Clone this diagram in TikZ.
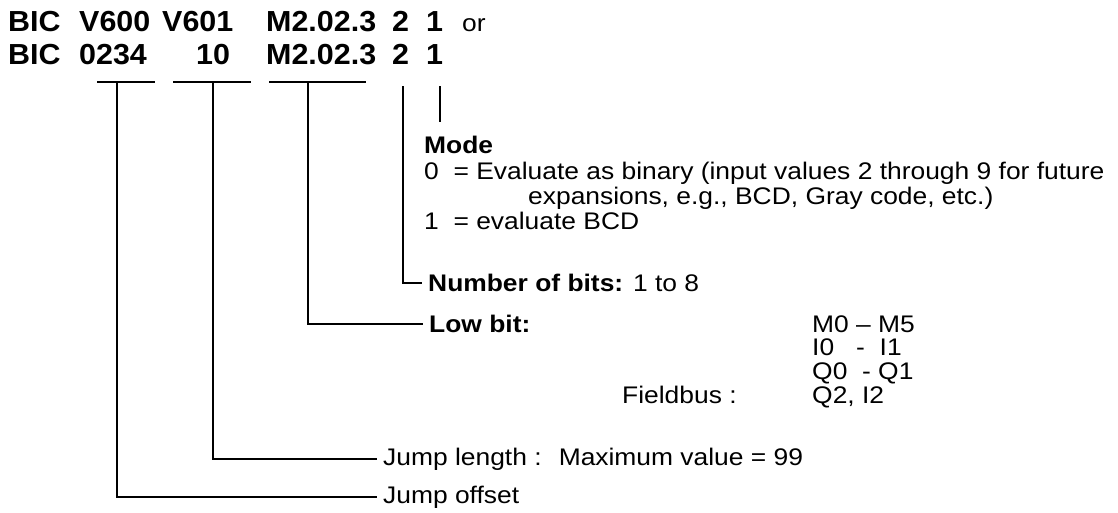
\documentclass[tikz,border=0pt]{standalone}
\usepackage{fontspec}
\setmainfont{Liberation Sans}
\newfontfamily\headfont[FakeStretch=1.05]{Liberation Sans}
\newfontfamily\notefont[FakeStretch=1.1,Ligatures=TeX]{Liberation Sans}
\usetikzlibrary{positioning}

\tikzset{
  word/.style={anchor=base west, inner sep=0pt, font={\headfont\fontsize{29}{33}\selectfont\bfseries}},
  desc/.style={anchor=base west, inner sep=0pt, font={\notefont\fontsize{24}{27}\selectfont}},
  lead/.style={line width=1.5pt},
}

\begin{document}
\begin{tikzpicture}[x=1pt,y=-1pt]

% Canvas in pixels of the original (1118 x 512), y grows downwards
\useasboundingbox (0,0) rectangle (1118,512);

% Rows of the instruction and height of the underline bars
\def\rowA{31}
\def\rowB{64}
\def\bary{82}

% --- Instruction, first form ---
\node[word] (bicA)  at (8,\rowA)   {BIC};
\node[word] (vsrc)  at (79,\rowA)  {V600};
\node[word] (vlen)  at (162,\rowA) {V601};
\node[word] (lowA)  at (266,\rowA) {M2.02.3};
\node[word] (bitsA) at (392,\rowA) {2};
\node[word] (modeA) at (426,\rowA) {1};
\node[desc] (orword) at (462,\rowA) {or};

% --- Instruction, second form ---
\node[word] (bicB)  at (8,\rowB)   {BIC};
\node[word] (offB)  at (79,\rowB)  {0234};
\node[word] (lenB)  at (196,\rowB) {10};
\node[word] (lowB)  at (266,\rowB) {M2.02.3};
\node[word] (bitsB) at (392,\rowB) {2};
\node[word] (modeB) at (426,\rowB) {1};

% --- Underline bars ---
\coordinate (offL) at (97,\bary);  \coordinate (offR) at (155,\bary);
\coordinate (lenL) at (173,\bary); \coordinate (lenR) at (251,\bary);
\coordinate (lowL) at (269,\bary); \coordinate (lowR) at (366,\bary);
\draw[lead] (offL) -- (offR);
\draw[lead] (lenL) -- (lenR);
\draw[lead] (lowL) -- (lowR);

% Tops of the leads
\coordinate (offT)  at (117,\bary);
\coordinate (lenT)  at (213,\bary);
\coordinate (lowT)  at (308,\bary);
\coordinate (bitsT) at (403,86);
\coordinate (modeT) at (440,86);
\coordinate (modeE) at (440,122);

% --- Mode ---
\node[desc] (modehead) at (424,153) {\bfseries Mode};
\node[desc] (modezero) at (424,179) {0~ = Evaluate as binary (input values 2 through 9 for future};
\node[desc] (modemore) at (528,204) {expansions, e.g., BCD, Gray code, etc.)};
\node[desc] (modeone)  at (424,229) {1~ = evaluate BCD};

% --- Labels at the ends of the leads ---
\node[desc, anchor=west] (nbits)  at (428,283) {\textbf{Number of bits:} 1 to 8};
\node[desc, anchor=west] (lowbit) at (429,324) {\bfseries Low bit:};
\node[desc, anchor=west] (jlen)   at (383,459) {Jump length :~ Maximum value = 99};
\node[desc, anchor=west] (joff)   at (383,497) {Jump offset};

% Operand list of the low bit
\coordinate (listx) at (812,0);
\node[desc] (mrange) at (listx |- lowbit.base) {M0 – M5};
\node[desc] (irange) at (812,355) {I0\ \ \ -\ \ I1};
\node[desc] (qrange) at (812,379) {Q0\ \ - Q1};
\node[desc] (fbus)   at (812,403) {Q2, I2};
\node[desc] (fbhead) at (622,403) {Fieldbus :};

% --- Leads ---
\draw[lead] (modeT) -- (modeE);
\draw[lead, shorten >=6pt] (bitsT) |- (nbits.west);
\draw[lead, shorten >=6pt] (lowT) |- (lowbit.west);
\draw[lead, shorten >=6pt] (lenT) |- (jlen.west);
\draw[lead, shorten >=6pt] (offT) |- (joff.west);

\end{tikzpicture}
\end{document}
